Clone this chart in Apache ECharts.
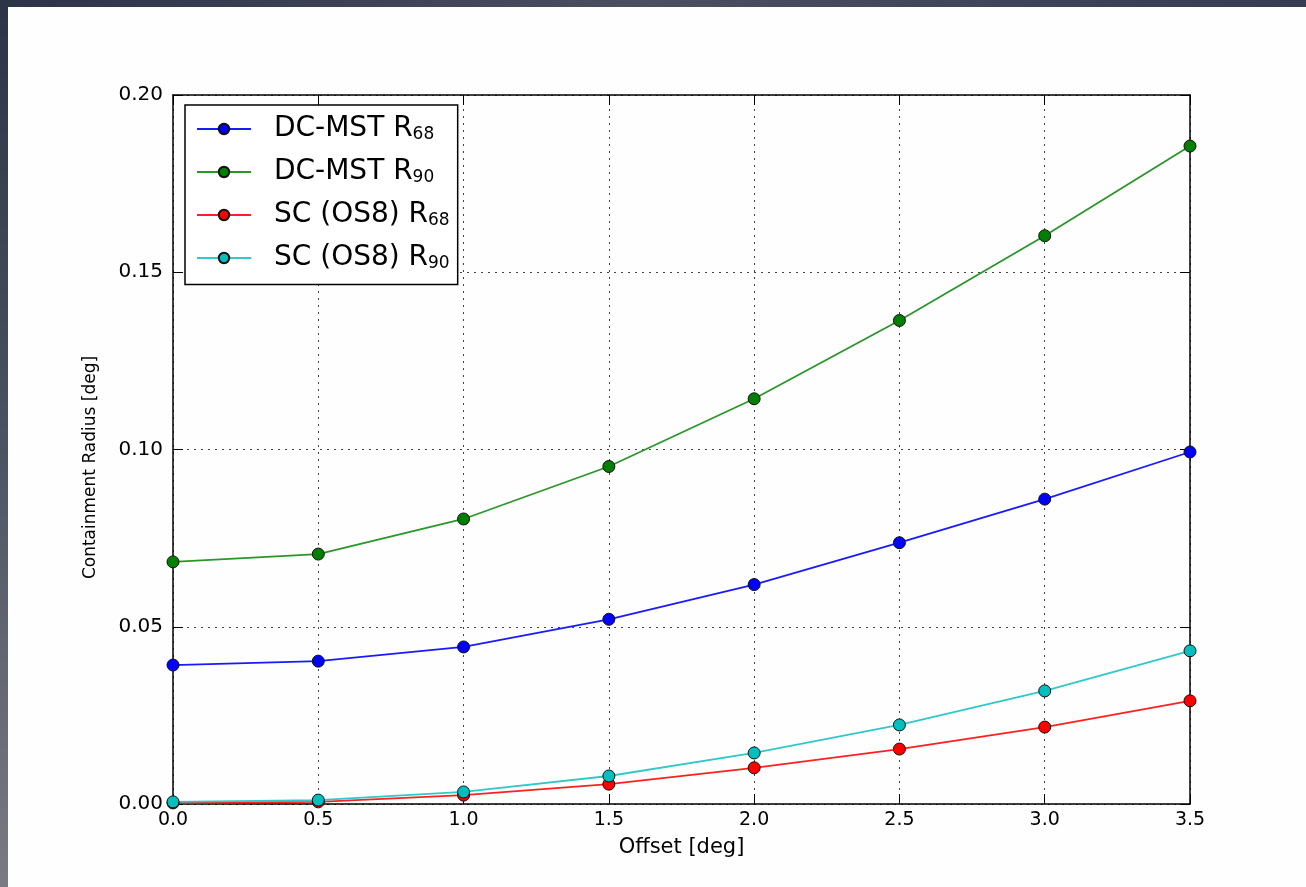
<!DOCTYPE html>
<html>
<head>
<meta charset="utf-8">
<script src="https://cdn.jsdelivr.net/npm/echarts@6/dist/echarts.min.js"></script>
<style>
  html, body { margin: 0; padding: 0; }
  body {
    width: 1306px; height: 887px; position: relative; overflow: hidden;
    background: linear-gradient(to bottom, #2c3347 0%, #47505f 45%, #7a7a82 100%);
  }
  #topband {
    position: absolute; left: 0; top: 0; width: 1306px; height: 7px;
    background: linear-gradient(to right, #2e3448, #4a5060 50%, #363c52);
  }
  #chart {
    position: absolute; left: 8px; top: 7px; width: 1298px; height: 880px;
    background: #fefefe;
  }
</style>
</head>
<body>
<div id="topband"></div>
<div id="chart"></div>
<script>
  'use strict';

  var offsets = [0.0, 0.5, 1.0, 1.5, 2.0, 2.5, 3.0, 3.5];
  var dcR68 = [0.0392, 0.0403, 0.0443, 0.0521, 0.0619, 0.0737, 0.0860, 0.0993];
  var dcR90 = [0.0683, 0.0705, 0.0804, 0.0952, 0.1143, 0.1364, 0.1603, 0.1856];
  var scR68 = [0.0003, 0.0006, 0.0025, 0.0056, 0.0102, 0.0155, 0.0217, 0.0291];
  var scR90 = [0.0006, 0.0011, 0.0034, 0.0079, 0.0144, 0.0223, 0.0319, 0.0432];
  var names = ['DC-MST R68', 'DC-MST R90', 'SC (OS8) R68', 'SC (OS8) R90'];

  function pairs(ys) {
    return offsets.map(function(x, i) { return [x, ys[i]]; });
  }

  function makeSeries(name, ys, color, lineColor) {
    return {
      name: name,
      type: 'line',
      data: pairs(ys),
      symbol: 'circle',
      symbolSize: 12,
      xAxisIndex: 0,
      yAxisIndex: 0,
      itemStyle: { color: color, borderColor: '#111', borderWidth: 1 },
      lineStyle: { color: lineColor, width: 1.8 },
      emphasis: { disabled: true },
      animation: false
    };
  }

  var myChart = echarts.init(document.getElementById('chart'));

  var gridLine = { show: true, lineStyle: { color: '#444', type: [2, 5], width: 1 } };
  var frameLine = { show: true, onZero: false, lineStyle: { color: '#000', width: 1.5 } };
  var tickIn = { show: true, inside: true, length: 10, lineStyle: { color: '#000', width: 1 } };

  var option = {
    backgroundColor: '#fefefe',
    grid: { left: 165, right: 116, top: 88, bottom: 83 },
    legend: {
      data: names,
      orient: 'vertical',
      left: 177,
      top: 98,
      padding: [10, 8, 12, 11],
      itemWidth: 54,
      itemHeight: 13,
      itemGap: 14.5,
      borderColor: '#000',
      borderWidth: 1.5,
      backgroundColor: '#fff',
      formatter: function(name) {
        var m = name.match(/^(.*R)(\d+)$/);
        return '{n|' + m[1] + '}{s|' + m[2] + '}';
      },
      textStyle: {
        padding: [0, 0, 0, 18],
        rich: {
          n: { fontFamily: 'DejaVu Sans', fontSize: 28, color: '#000', lineHeight: 30 },
          s: { fontFamily: 'DejaVu Sans', fontSize: 17, color: '#000', padding: [12, 0, 0, 0] }
        }
      }
    },
    xAxis: [{
      type: 'value',
      min: 0,
      max: 3.5,
      interval: 0.5,
      name: 'Offset [deg]',
      nameLocation: 'middle',
      nameGap: 33,
      nameTextStyle: { fontFamily: 'DejaVu Sans', fontSize: 21, color: '#000' },
      axisLine: frameLine,
      axisTick: tickIn,
      splitLine: gridLine,
      axisLabel: {
        fontFamily: 'DejaVu Sans', fontSize: 19, color: '#000', margin: 7,
        formatter: function(v) { return v.toFixed(1); }
      }
    }, {
      type: 'value',
      position: 'top',
      min: 0,
      max: 3.5,
      interval: 0.5,
      axisLine: frameLine,
      axisTick: tickIn,
      splitLine: { show: false },
      axisLabel: { show: false }
    }],
    yAxis: [{
      type: 'value',
      min: 0,
      max: 0.2,
      interval: 0.05,
      name: 'Containment Radius [deg]',
      nameLocation: 'middle',
      nameGap: 74,
      nameTextStyle: { fontFamily: 'DejaVu Sans', fontSize: 17, color: '#000', padding: [0, 36, 0, 0] },
      axisLine: frameLine,
      axisTick: tickIn,
      splitLine: gridLine,
      axisLabel: {
        fontFamily: 'DejaVu Sans', fontSize: 20, color: '#000', margin: 10,
        formatter: function(v) { return v.toFixed(2); }
      }
    }, {
      type: 'value',
      position: 'right',
      min: 0,
      max: 0.2,
      interval: 0.05,
      axisLine: frameLine,
      axisTick: tickIn,
      splitLine: { show: false },
      axisLabel: { show: false }
    }],
    series: [
      makeSeries(names[0], dcR68, '#0000ff', '#1a1aff'),
      makeSeries(names[1], dcR90, '#007f00', '#2a962a'),
      makeSeries(names[2], scR68, '#ff0000', '#ff2020'),
      makeSeries(names[3], scR90, '#00bfbf', '#30c8c8')
    ]
  };

  myChart.setOption(option);
</script>
</body>
</html>
